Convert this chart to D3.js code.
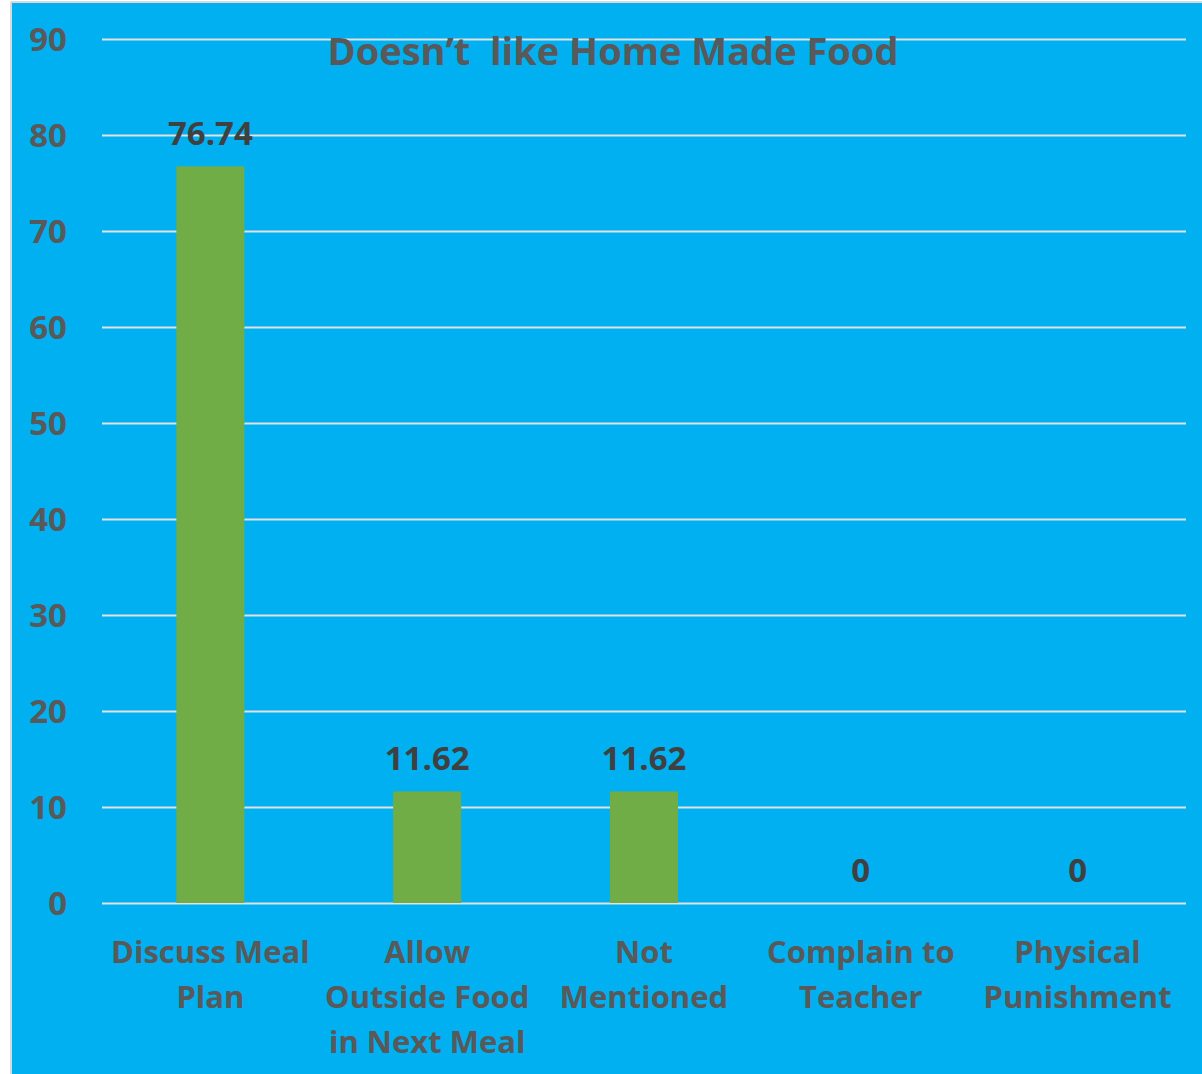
<!DOCTYPE html>
<html><head><meta charset="utf-8">
<script src="https://cdn.jsdelivr.net/npm/d3@7"></script>
<style>
html,body{margin:0;padding:0;background:#fff;}
svg{display:block;}
text{font-family:"Open Sans",sans-serif;font-weight:bold;}
</style></head>
<body>
<svg id="c" width="1202" height="1074"></svg>
<script>
const categories = [["Discuss Meal","Plan"],["Allow","Outside Food","in Next Meal"],["Not","Mentioned"],["Complain to","Teacher"],["Physical","Punishment"]];
const values = [76.74, 11.62, 11.62, 0, 0];
const valueLabels = ["76.74","11.62","11.62","0","0"];
const yTicks = [0,10,20,30,40,50,60,70,80,90];
const title = "Doesn\u2019t  like Home Made Food";

const svg = d3.select("#c");
const W = 1202, H = 1074;
svg.append("rect").attr("x",0).attr("y",0).attr("width",W).attr("height",H).attr("fill","#fff");
svg.append("rect").attr("x",12).attr("y",3).attr("width",W-12).attr("height",H-3).attr("fill","#00B0F0");
svg.append("line").attr("x1",11).attr("x2",11).attr("y1",2).attr("y2",H).attr("stroke","#d9d9d9").attr("stroke-width",2);
svg.append("line").attr("x1",11).attr("x2",W).attr("y1",2).attr("y2",2).attr("stroke","#d9d9d9").attr("stroke-width",2);

const m = {left:102, right:1186, top:39, bottom:903};
const x = d3.scaleBand().domain(d3.range(categories.length)).range([m.left,m.right]).paddingInner(0.686).paddingOuter(0.343);
const y = d3.scaleLinear().domain([0,90]).range([m.bottom,m.top]);

const yAxis = d3.axisLeft(y).tickValues(yTicks).tickSize(-(m.right-m.left)).tickPadding(35);
const gy = svg.append("g").attr("transform",`translate(${m.left},0)`).call(yAxis);
gy.select(".domain").remove();
gy.selectAll(".tick line").attr("stroke","#e2e2e2").attr("stroke-width",2);
gy.selectAll(".tick text").attr("fill","#595959").attr("font-size",33).attr("font-family","Open Sans").attr("font-weight","bold").attr("dy","0.36em");

svg.append("text").attr("x",613).attr("y",65).attr("text-anchor","middle").attr("fill","#595959").attr("font-size",38).style("white-space","pre").text(title);

svg.selectAll("rect.bar").data(values).join("rect").attr("class","bar")
  .attr("x",(d,i)=>x(i)).attr("width",x.bandwidth())
  .attr("y",d=>y(d)).attr("height",d=>y(0)-y(d)).attr("fill","#70AD47");

svg.selectAll("text.val").data(values).join("text").attr("class","val")
  .attr("x",(d,i)=>x(i)+x.bandwidth()/2).attr("y",d=>y(d)-21)
  .attr("text-anchor","middle").attr("fill","#404040").attr("font-size",33)
  .text((d,i)=>valueLabels[i]);

const xAxis = d3.axisBottom(x).tickSize(0).tickFormat("");
const gx = svg.append("g").attr("transform",`translate(0,${m.bottom})`).call(xAxis);
gx.select(".domain").remove();
gx.selectAll(".tick").each(function(d){
  const t = d3.select(this).append("text").attr("text-anchor","middle").attr("fill","#595959").attr("font-size",31);
  categories[d].forEach((line,k)=>{
    t.append("tspan").attr("x",0).attr("y",60+k*45).text(line);
  });
});
</script>
</body></html>
